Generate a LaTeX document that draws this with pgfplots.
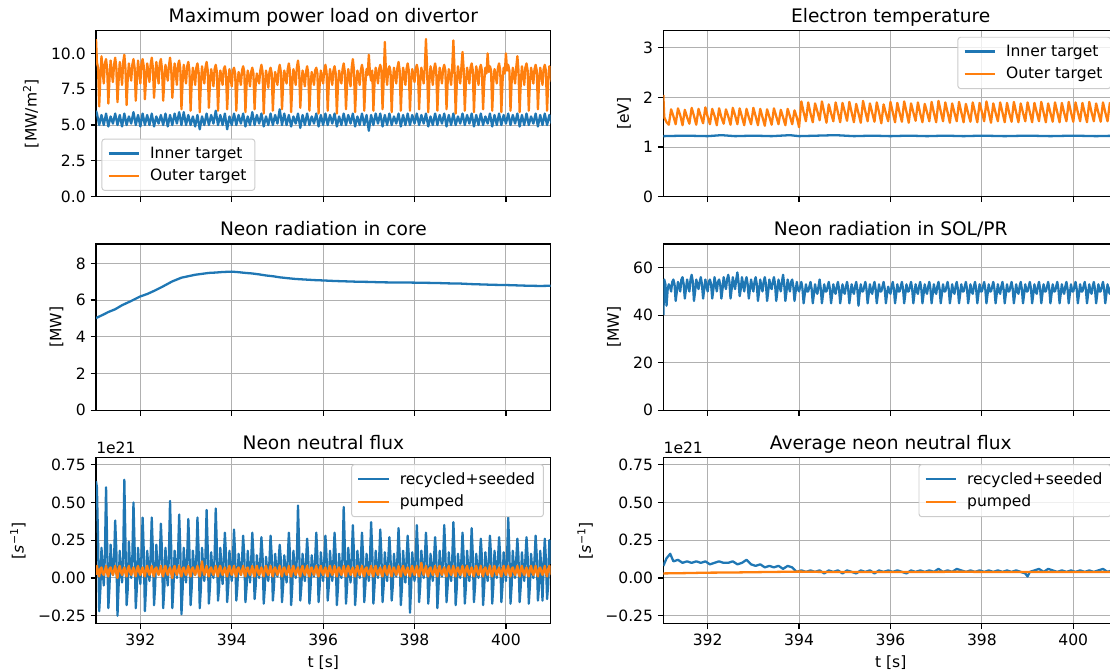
\documentclass[border=0pt]{standalone}
\usepackage{fontspec}
\setmainfont{DejaVu Sans}
\usepackage{pgfplots}
\pgfplotsset{compat=1.18}
\usepackage{pgfplotstable}
\definecolor{C0}{HTML}{1F77B4}
\definecolor{C1}{HTML}{FF7F0E}
\definecolor{gridc}{HTML}{B0B0B0}
\definecolor{legc}{HTML}{CCCCCC}
\newcommand{\fs}{\fontsize{11.2}{13.4}\selectfont}
\pgfplotsset{
  base/.style={
    scale only axis, width=327.4pt, height=119.7pt, anchor=south west,
    xmin=391.03, xmax=400.98,
    xtick={392,394,396,398,400},
    grid=major, grid style={line width=0.65pt, color=gridc},
    axis line style={line width=0.85pt},
    tick align=outside, tick pos=left, major tick length=3.9pt,
    tick style={line width=0.85pt, black},
    tick label style={font=\fs},
    /pgf/number format/assume math mode=true,
    label style={font=\fs},
    ylabel shift=2pt,
    title style={font=\fontsize{13.4}{16}\selectfont, anchor=base, at={(0.5,1)}},
    legend cell align=left,
    legend image code/.code={\draw[##1] (0pt,0pt) -- (22pt,0pt);},
    legend style={draw=legc, line width=0.7pt, rounded corners=2pt, fill=white, fill opacity=0.8, text opacity=1, font=\fs, inner xsep=4pt, inner ysep=3.5pt, row sep=2.5pt, /tikz/every odd column/.append style={column sep=5pt}},
    every axis plot/.append style={line width=1.65pt, mark=none, line join=round},
  },
  flux/.style={
    ymin=-0.303, ymax=0.798, ytick={-0.25,0,0.25,0.5,0.75},
    yticklabels={−0.25,0.00,0.25,0.50,0.75},
    ylabel={[\textit{s}\textsuperscript{−1}]}, xlabel={t [s]},
  },
}
\pgfplotstableread{
t a b c d e f
391.03 6.0 11.0 2.05 40 0.64 0.02
391.05 5.8 9.4 1.60 55 0.60 0.08
391.075 nan 9.0 nan 53 0.25 0.04
391.10 5.0 6.3 1.50 44 -0.22 0.01
391.125 nan 8.3 nan 51 -0.08 0.06
391.15 5.7 9.8 1.45 53 0.20 0.07
391.175 nan 8.8 nan 52 0.06 0.03
391.20 5.0 7.9 1.76 50 -0.05 0.02
391.225 nan 9.3 nan 54 0.15 0.05
391.25 5.8 9.6 1.62 55 0.60 0.08
391.275 nan 8.9 nan 53 0.20 0.03
391.30 4.9 6.5 1.46 46 -0.20 0.01
391.325 nan 8.2 nan 50 -0.06 0.06
391.35 5.6 9.5 1.78 54 0.22 0.07
391.375 nan 8.6 nan 52 0.08 0.04
391.40 5.1 8.0 1.64 50 0.02 0.02
391.425 nan 9.2 nan 55 0.12 0.05
391.45 5.8 9.7 1.44 56 0.38 0.08
391.475 nan 9.0 nan 53 0.18 0.03
391.50 5.0 6.6 1.75 47 -0.25 0.00
391.525 nan 8.1 nan 51 -0.05 0.06
391.55 5.7 9.4 1.60 55 0.18 0.08
391.575 nan 8.7 nan 52 0.05 0.04
391.60 4.9 7.8 1.47 50 -0.03 0.02
391.625 nan 9.4 nan 55 0.14 0.05
391.65 5.8 9.9 1.79 57 0.65 0.07
391.675 nan 8.9 nan 54 0.22 0.03
391.70 5.0 6.4 1.63 46 -0.18 0.01
391.725 nan 8.3 nan 50 -0.07 0.06
391.75 5.6 9.3 1.45 55 0.24 0.08
391.775 nan 8.6 nan 53 0.07 0.04
391.80 5.1 8.1 1.77 51 0.00 0.02
391.825 nan 9.2 nan 54 0.13 0.05
391.85 5.9 9.6 1.62 56 0.50 0.07
391.875 nan 9.0 nan 53 0.20 0.03
391.90 5.0 6.7 1.48 47 -0.20 0.01
391.925 nan 8.2 nan 51 -0.06 0.06
391.95 5.7 9.5 1.80 55 0.20 0.08
391.975 nan 8.7 nan 52 0.06 0.04
392.00 4.9 7.9 1.61 50 -0.04 0.02
392.025 nan 9.3 nan 54 0.15 0.05
392.05 5.8 9.6 1.46 55 0.40 0.07
392.075 nan 9.1 nan 53 0.18 0.03
392.10 5.0 6.8 1.77 47 -0.22 0.01
392.125 nan 8.2 nan 51 -0.06 0.06
392.15 5.7 9.3 1.63 56 0.18 0.08
392.175 nan 8.7 nan 53 0.07 0.04
392.20 5.0 8.0 1.44 50 -0.02 0.02
392.225 nan 9.2 nan 54 0.14 0.05
392.25 5.8 9.7 1.78 55 0.40 0.08
392.275 nan 9.0 nan 53 0.17 0.03
392.30 4.9 6.9 1.60 47 -0.18 0.01
392.325 nan 8.3 nan 51 -0.05 0.06
392.35 5.6 9.4 1.47 56 0.22 0.07
392.375 nan 8.6 nan 53 0.06 0.04
392.40 5.1 7.9 1.76 51 0.03 0.02
392.425 nan 9.3 nan 55 0.13 0.05
392.45 5.7 9.6 1.62 57 0.36 0.08
392.475 nan 8.9 nan 54 0.16 0.03
392.50 5.0 6.7 1.45 47 -0.20 0.01
392.525 nan 8.1 nan 51 -0.07 0.06
392.55 5.8 9.2 1.79 56 0.20 0.08
392.575 nan 8.7 nan 53 0.05 0.04
392.60 4.9 8.1 1.64 51 -0.05 0.02
392.625 nan 9.1 nan 55 0.14 0.05
392.65 5.7 9.7 1.46 58 0.51 0.07
392.675 nan 9.0 nan 54 0.20 0.03
392.70 5.0 6.9 1.78 48 -0.20 0.00
392.725 nan 8.2 nan 51 -0.06 0.06
392.75 5.8 9.3 1.61 56 0.18 0.08
392.775 nan 8.6 nan 53 0.07 0.04
392.80 5.1 7.8 1.44 50 0.00 0.02
392.825 nan 9.2 nan 54 0.15 0.05
392.85 5.9 9.5 1.77 56 0.42 0.08
392.875 nan 8.9 nan 53 0.18 0.03
392.90 5.0 6.1 1.60 47 -0.24 0.01
392.925 nan 8.0 nan 51 -0.08 0.06
392.95 5.9 9.2 1.46 55 0.20 0.07
392.975 nan 8.5 nan 52 0.06 0.04
393.00 5.0 7.9 1.79 50 -0.03 0.02
393.025 nan 9.1 nan 54 0.14 0.05
393.05 5.7 9.4 1.62 56 0.39 0.08
393.075 nan 8.8 nan 53 0.17 0.03
393.10 5.0 6.0 1.44 46 -0.18 0.01
393.125 nan 8.0 nan 50 -0.06 0.06
393.15 5.6 9.0 1.77 55 0.18 0.07
393.175 nan 8.5 nan 52 0.06 0.04
393.20 4.9 7.8 1.60 50 0.02 0.02
393.225 nan 9.0 nan 54 0.13 0.05
393.25 5.7 9.3 1.43 56 0.40 0.08
393.275 nan 8.7 nan 53 0.18 0.03
393.30 4.7 5.9 1.76 46 -0.20 0.01
393.325 nan 7.9 nan 50 -0.07 0.06
393.35 5.6 9.1 1.61 55 0.20 0.11
393.375 nan 8.4 nan 52 0.07 0.05
393.40 5.0 7.9 1.45 51 -0.02 0.02
393.425 nan 9.0 nan 54 0.14 0.05
393.45 5.8 9.4 1.78 56 0.45 0.08
393.475 nan 8.8 nan 53 0.19 0.03
393.50 5.0 6.2 1.62 46 -0.17 0.01
393.525 nan 8.0 nan 50 -0.05 0.06
393.55 5.7 8.9 1.46 55 0.17 0.07
393.575 nan 8.4 nan 52 0.05 0.04
393.60 5.1 7.7 1.75 50 0.00 0.02
393.625 nan 8.9 nan 54 0.13 0.05
393.65 6.0 9.2 1.60 57 0.46 0.08
393.675 nan 8.7 nan 53 0.20 0.03
393.70 5.0 6.0 1.44 46 -0.15 0.01
393.725 nan 7.9 nan 50 -0.06 0.06
393.75 5.7 8.8 1.77 55 0.20 0.08
393.775 nan 8.4 nan 52 0.06 0.04
393.80 5.0 7.8 1.62 50 -0.04 0.02
393.825 nan 8.9 nan 54 0.12 0.05
393.85 5.8 9.1 1.46 55 0.30 0.07
393.875 nan 8.6 nan 52 0.15 0.03
393.90 4.7 6.1 1.74 46 -0.16 0.01
393.925 nan 7.9 nan 50 -0.05 0.06
393.95 5.6 8.9 1.60 54 0.18 0.08
393.975 nan 8.3 nan 51 0.06 0.04
394.00 5.0 7.7 1.40 50 -0.02 0.02
394.025 nan 8.8 nan 52 0.12 0.05
394.05 5.8 9.0 1.92 54 0.32 0.08
394.075 nan 8.6 nan 51 0.15 0.03
394.10 5.0 6.0 1.70 45 -0.15 0.01
394.125 nan 7.9 nan 49 -0.05 0.06
394.15 5.7 8.7 1.52 53 0.16 0.07
394.175 nan 8.3 nan 50 0.05 0.04
394.20 5.1 7.8 1.90 50 0.02 0.02
394.225 nan 8.8 nan 52 0.12 0.05
394.25 5.8 9.1 1.68 54 0.28 0.08
394.275 nan 8.7 nan 51 0.14 0.03
394.30 4.9 5.9 1.50 45 -0.16 0.01
394.325 nan 7.8 nan 49 -0.06 0.06
394.35 5.6 8.8 1.88 53 0.18 0.07
394.375 nan 8.3 nan 50 0.06 0.04
394.40 5.0 7.7 1.72 49 -0.03 0.02
394.425 nan 8.7 nan 52 0.11 0.05
394.45 5.9 9.0 1.54 55 0.30 0.08
394.475 nan 8.6 nan 51 0.15 0.03
394.50 5.0 6.1 1.92 45 -0.14 0.01
394.525 nan 7.9 nan 49 -0.05 0.06
394.55 5.7 8.6 1.70 53 0.15 0.08
394.575 nan 8.2 nan 50 0.05 0.04
394.60 5.1 7.9 1.49 50 0.00 0.02
394.625 nan 8.8 nan 52 0.12 0.05
394.65 5.8 9.2 1.86 54 0.27 0.07
394.675 nan 8.7 nan 51 0.14 0.03
394.70 4.9 5.8 1.68 45 -0.17 0.01
394.725 nan 7.8 nan 49 -0.06 0.06
394.75 5.6 8.8 1.52 53 0.14 0.08
394.775 nan 8.3 nan 50 0.05 0.04
394.80 5.0 7.6 1.90 49 -0.02 0.02
394.825 nan 8.7 nan 52 0.11 0.05
394.85 5.8 9.0 1.70 54 0.28 0.08
394.875 nan 8.6 nan 51 0.14 0.03
394.90 5.0 6.0 1.50 45 -0.15 0.01
394.925 nan 7.9 nan 49 -0.05 0.06
394.95 5.7 8.7 1.89 53 0.16 0.07
394.975 nan 8.3 nan 50 0.06 0.04
395.00 5.1 7.8 1.71 49 0.01 0.02
395.025 nan 8.8 nan 52 0.11 0.05
395.05 6.1 9.2 1.53 54 0.22 0.08
395.075 nan 8.7 nan 51 0.12 0.03
395.10 5.0 6.1 1.91 45 -0.16 0.01
395.125 nan 7.9 nan 49 -0.05 0.06
395.15 5.8 8.8 1.70 53 0.15 0.07
395.175 nan 8.3 nan 50 0.05 0.04
395.20 5.0 7.9 1.50 49 -0.03 0.02
395.225 nan 8.9 nan 52 0.12 0.05
395.25 5.7 9.3 1.87 54 0.30 0.08
395.275 nan 8.7 nan 51 0.15 0.03
395.30 4.9 5.9 1.68 44 -0.18 0.01
395.325 nan 7.8 nan 49 -0.06 0.06
395.35 5.6 8.9 1.49 53 0.18 0.08
395.375 nan 8.4 nan 50 0.06 0.04
395.40 5.1 7.8 1.93 50 0.00 0.02
395.425 nan 9.0 nan 52 0.13 0.05
395.45 5.8 9.5 1.72 54 0.48 0.07
395.475 nan 8.8 nan 51 0.20 0.03
395.50 4.8 6.2 1.52 45 -0.15 0.01
395.525 nan 7.9 nan 49 -0.05 0.06
395.55 5.7 8.8 1.88 53 0.16 0.08
395.575 nan 8.3 nan 50 0.05 0.04
395.60 5.0 7.7 1.69 49 -0.02 0.02
395.625 nan 8.7 nan 52 0.11 0.05
395.65 5.8 9.1 1.51 54 0.26 0.08
395.675 nan 8.6 nan 51 0.13 0.03
395.70 5.0 6.0 1.90 45 -0.17 0.01
395.725 nan 7.8 nan 49 -0.06 0.06
395.75 5.6 8.7 1.70 53 0.15 0.07
395.775 nan 8.3 nan 50 0.05 0.04
395.80 5.1 7.8 1.48 50 0.01 0.02
395.825 nan 8.8 nan 52 0.12 0.05
395.85 5.8 9.0 1.86 54 0.30 0.08
395.875 nan 8.6 nan 51 0.14 0.03
395.90 4.9 5.8 1.68 45 -0.16 0.01
395.925 nan 7.9 nan 49 -0.05 0.06
395.95 5.7 8.8 1.52 52 0.17 0.08
395.975 nan 8.3 nan 50 0.06 0.04
396.00 5.0 7.9 1.91 49 -0.02 0.02
396.025 nan 8.8 nan 52 0.12 0.05
396.05 5.8 9.2 1.70 54 0.28 0.07
396.075 nan 8.7 nan 51 0.14 0.03
396.10 5.0 6.0 1.50 45 -0.15 0.01
396.125 nan 7.9 nan 49 -0.05 0.06
396.15 5.7 8.9 1.89 53 0.18 0.08
396.175 nan 8.4 nan 50 0.06 0.04
396.20 5.1 7.8 1.69 50 -0.02 0.02
396.225 nan 8.8 nan 52 0.12 0.05
396.25 5.8 9.1 1.51 54 0.30 0.08
396.275 nan 8.6 nan 51 0.15 0.03
396.30 4.9 5.8 1.92 45 -0.18 0.01
396.325 nan 7.8 nan 49 -0.06 0.06
396.35 5.6 8.8 1.71 53 0.16 0.07
396.375 nan 8.3 nan 50 0.05 0.04
396.40 5.0 7.9 1.49 50 0.00 0.02
396.425 nan 8.9 nan 52 0.14 0.05
396.45 5.8 9.3 1.88 54 0.47 0.08
396.475 nan 8.7 nan 51 0.20 0.03
396.50 5.0 6.1 1.70 45 -0.17 0.01
396.525 nan 7.9 nan 49 -0.05 0.06
396.55 5.7 8.9 1.53 53 0.20 0.08
396.575 nan 8.3 nan 50 0.06 0.04
396.60 5.1 7.7 1.90 49 -0.03 0.02
396.625 nan 9.0 nan 52 0.13 0.05
396.65 5.8 9.6 1.68 54 0.35 0.07
396.675 nan 8.8 nan 51 0.16 0.03
396.70 4.9 5.9 1.50 45 -0.18 0.01
396.725 nan 7.8 nan 49 -0.06 0.06
396.75 5.6 8.8 1.87 53 0.18 0.08
396.775 nan 8.4 nan 50 0.06 0.04
396.80 5.0 7.8 1.70 49 0.00 0.02
396.825 nan 8.8 nan 52 0.12 0.05
396.85 5.8 9.2 1.52 54 0.30 0.08
396.875 nan 8.7 nan 51 0.14 0.03
396.90 5.0 6.0 1.91 45 -0.16 0.01
396.925 nan 7.9 nan 49 -0.05 0.06
396.95 5.7 8.9 1.69 53 0.16 0.07
396.975 nan 8.5 nan 50 0.06 0.04
397.00 4.6 9.9 1.50 49 -0.02 0.02
397.025 nan 8.6 nan 52 0.12 0.05
397.05 5.7 8.1 1.93 54 0.37 0.08
397.075 nan 8.8 nan 51 0.17 0.03
397.10 5.0 6.0 1.72 45 -0.17 0.01
397.125 nan 8.0 nan 49 -0.05 0.06
397.15 5.8 9.0 1.52 53 0.18 0.08
397.175 nan 8.5 nan 50 0.06 0.04
397.20 5.1 7.9 1.90 50 0.00 0.02
397.225 nan 8.9 nan 52 0.12 0.05
397.25 5.8 9.2 1.70 54 0.32 0.07
397.275 nan 8.8 nan 51 0.15 0.03
397.30 4.9 6.1 1.49 45 -0.16 0.01
397.325 nan 8.1 nan 49 -0.05 0.06
397.35 5.7 10.8 1.88 53 0.17 0.08
397.375 nan 8.6 nan 50 0.06 0.04
397.40 5.0 7.8 1.69 49 -0.02 0.02
397.425 nan 8.9 nan 52 0.12 0.05
397.45 5.8 9.1 1.52 54 0.27 0.08
397.475 nan 8.7 nan 51 0.13 0.03
397.50 5.0 5.9 1.91 45 -0.15 0.01
397.525 nan 8.0 nan 49 -0.05 0.06
397.55 5.6 9.0 1.70 53 0.16 0.07
397.575 nan 8.5 nan 50 0.05 0.04
397.60 5.1 7.9 1.50 50 0.01 0.02
397.625 nan 9.0 nan 52 0.13 0.05
397.65 5.8 9.4 1.87 54 0.33 0.08
397.675 nan 8.8 nan 51 0.15 0.03
397.70 4.9 6.0 1.68 45 -0.18 0.01
397.725 nan 8.0 nan 49 -0.06 0.06
397.75 5.7 9.0 1.51 53 0.18 0.08
397.775 nan 8.5 nan 50 0.06 0.04
397.80 5.0 7.8 1.90 49 -0.03 0.02
397.825 nan 8.9 nan 52 0.12 0.05
397.85 5.8 9.3 1.70 54 0.28 0.07
397.875 nan 8.8 nan 51 0.14 0.03
397.90 5.0 6.0 1.50 45 -0.23 0.01
397.925 nan 8.0 nan 49 -0.07 0.06
397.95 5.7 8.9 1.89 53 0.17 0.08
397.975 nan 8.5 nan 50 0.06 0.04
398.00 5.1 8.0 1.71 50 -0.02 0.02
398.025 nan 8.9 nan 52 0.12 0.05
398.05 5.8 9.2 1.52 54 0.35 0.08
398.075 nan 8.8 nan 51 0.16 0.03
398.10 5.0 6.1 1.92 45 -0.16 0.01
398.125 nan 8.0 nan 49 -0.05 0.06
398.15 5.7 9.0 1.70 53 0.18 0.10
398.175 nan 8.5 nan 50 0.06 0.05
398.20 5.1 7.9 1.49 50 0.00 0.02
398.225 nan 9.0 nan 52 0.13 0.05
398.25 5.8 11.0 1.88 54 0.30 0.08
398.275 nan 8.9 nan 51 0.15 0.03
398.30 4.9 5.9 1.69 45 -0.17 0.01
398.325 nan 8.0 nan 49 -0.05 0.06
398.35 5.6 9.1 1.52 53 0.16 0.07
398.375 nan 8.5 nan 50 0.05 0.04
398.40 5.0 7.8 1.90 49 -0.02 0.02
398.425 nan 8.9 nan 52 0.12 0.05
398.45 5.8 9.3 1.70 54 0.27 0.08
398.475 nan 8.8 nan 51 0.14 0.03
398.50 5.0 6.0 1.50 45 -0.20 0.01
398.525 nan 8.0 nan 49 -0.06 0.06
398.55 5.7 9.0 1.89 53 0.18 0.08
398.575 nan 8.5 nan 50 0.06 0.04
398.60 5.1 7.9 1.68 50 0.01 0.02
398.625 nan 8.9 nan 52 0.13 0.05
398.65 5.8 9.2 1.51 54 0.35 0.07
398.675 nan 8.8 nan 51 0.16 0.03
398.70 4.9 6.1 1.91 45 -0.16 0.01
398.725 nan 8.0 nan 49 -0.05 0.06
398.75 5.7 8.9 1.70 53 0.17 0.08
398.775 nan 8.4 nan 50 0.05 0.04
398.80 5.0 7.8 1.50 49 -0.02 0.02
398.825 nan 9.0 nan 52 0.12 0.05
398.85 5.8 10.9 1.88 54 0.37 0.08
398.875 nan 8.9 nan 51 0.17 0.03
398.90 5.0 5.8 1.69 45 -0.18 0.01
398.925 nan 7.9 nan 49 -0.06 0.06
398.95 5.6 9.1 1.52 53 0.16 0.07
398.975 nan 8.5 nan 50 0.06 0.04
399.00 5.1 7.9 1.90 50 0.00 0.02
399.025 nan 9.0 nan 52 0.12 0.05
399.05 5.8 10.1 1.70 54 0.30 0.08
399.075 nan 8.9 nan 51 0.14 0.03
399.10 5.0 6.0 1.50 45 -0.17 0.01
399.125 nan 8.0 nan 49 -0.05 0.06
399.15 5.7 9.0 1.89 53 0.18 0.08
399.175 nan 8.5 nan 50 0.06 0.04
399.20 5.1 7.9 1.70 49 -0.02 0.02
399.225 nan 9.0 nan 52 0.12 0.05
399.25 5.8 9.3 1.52 54 0.33 0.07
399.275 nan 8.8 nan 51 0.15 0.03
399.30 4.9 5.9 1.91 45 -0.16 0.01
399.325 nan 8.0 nan 49 -0.05 0.06
399.35 5.7 9.1 1.70 53 0.16 0.08
399.375 nan 8.5 nan 50 0.05 0.04
399.40 5.0 7.8 1.50 50 0.00 0.02
399.425 nan 8.9 nan 52 0.12 0.05
399.45 5.8 9.2 1.88 54 0.26 0.08
399.475 nan 8.8 nan 51 0.13 0.03
399.50 5.0 6.1 1.69 45 -0.18 0.01
399.525 nan 8.0 nan 49 -0.06 0.06
399.55 5.6 9.0 1.51 53 0.17 0.07
399.575 nan 8.6 nan 50 0.05 0.04
399.60 5.1 10.0 1.90 50 -0.02 0.02
399.625 nan 8.7 nan 52 0.12 0.05
399.65 5.8 9.1 1.70 54 0.28 0.08
399.675 nan 8.8 nan 51 0.14 0.03
399.70 4.9 6.0 1.50 45 -0.17 0.01
399.725 nan 8.0 nan 49 -0.05 0.06
399.75 5.7 8.9 1.89 53 0.18 0.08
399.775 nan 8.5 nan 50 0.06 0.04
399.80 5.0 7.9 1.69 49 0.00 0.02
399.825 nan 9.0 nan 52 0.12 0.05
399.85 5.8 9.3 1.52 54 0.27 0.07
399.875 nan 8.8 nan 51 0.14 0.03
399.90 5.0 5.9 1.91 45 -0.16 0.01
399.925 nan 8.0 nan 49 -0.05 0.06
399.95 5.7 9.0 1.70 53 0.17 0.08
399.975 nan 8.6 nan 50 0.06 0.04
400.00 5.1 10.0 1.51 50 -0.02 0.02
400.025 nan 8.8 nan 52 0.14 0.05
400.05 5.8 9.2 1.90 54 0.40 0.08
400.075 nan 8.8 nan 51 0.17 0.03
400.10 5.0 6.0 1.70 45 -0.17 0.01
400.125 nan 8.0 nan 49 -0.05 0.06
400.15 5.7 9.0 1.52 53 0.18 0.07
400.175 nan 8.5 nan 50 0.06 0.04
400.20 5.1 7.9 1.89 50 0.00 0.02
400.225 nan 9.0 nan 52 0.12 0.05
400.25 5.8 9.8 1.69 54 0.26 0.08
400.275 nan 8.8 nan 51 0.13 0.03
400.30 4.9 5.9 1.50 45 -0.16 0.01
400.325 nan 8.0 nan 49 -0.05 0.06
400.35 5.7 9.1 1.91 53 0.17 0.08
400.375 nan 8.5 nan 50 0.05 0.04
400.40 5.0 7.8 1.70 49 -0.02 0.02
400.425 nan 9.0 nan 52 0.12 0.05
400.45 5.8 9.3 1.52 54 0.27 0.07
400.475 nan 8.8 nan 51 0.14 0.03
400.50 5.0 6.0 1.88 45 -0.17 0.01
400.525 nan 8.0 nan 49 -0.05 0.06
400.55 5.6 9.0 1.69 53 0.16 0.08
400.575 nan 8.5 nan 50 0.05 0.04
400.60 5.1 7.9 1.51 50 0.00 0.02
400.625 nan 8.9 nan 52 0.12 0.05
400.65 5.8 9.2 1.90 54 0.28 0.08
400.675 nan 8.8 nan 51 0.14 0.03
400.70 4.9 6.1 1.70 45 -0.15 0.01
400.725 nan 8.0 nan 49 -0.05 0.06
400.75 5.7 9.0 1.52 53 0.18 0.07
400.775 nan 8.5 nan 50 0.06 0.04
400.80 5.0 7.8 1.89 49 -0.15 0.02
400.825 nan 8.9 nan 52 0.10 0.05
400.85 5.8 9.2 1.69 54 0.26 0.08
400.875 nan 8.8 nan 51 0.12 0.03
400.90 5.0 6.0 1.50 45 -0.14 0.01
400.925 nan 8.0 nan 49 -0.04 0.06
400.95 5.7 9.1 1.88 53 0.25 0.08
400.975 nan 8.6 nan 50 0.10 0.04
401.00 5.1 8.0 1.70 50 0.25 0.02
}\datatab
\pgfplotstableread{
t y
391.03 5.02
391.2 5.22
391.3 5.35
391.45 5.50
391.6 5.72
391.8 5.95
392.0 6.20
392.15 6.33
392.3 6.50
392.5 6.75
392.7 7.02
392.9 7.22
393.05 7.30
393.2 7.38
393.35 7.43
393.5 7.48
393.65 7.50
393.8 7.53
394.0 7.55
394.15 7.52
394.3 7.48
394.45 7.45
394.6 7.40
394.75 7.34
394.9 7.30
395.05 7.24
395.2 7.20
395.4 7.15
395.6 7.12
395.8 7.09
396.0 7.07
396.25 7.04
396.5 7.02
396.75 7.00
397.0 6.99
397.25 6.97
397.5 6.96
397.75 6.96
398.0 6.95
398.25 6.94
398.5 6.93
398.75 6.91
399.0 6.90
399.25 6.87
399.5 6.85
399.75 6.83
400.0 6.82
400.25 6.80
400.5 6.78
400.75 6.77
401.0 6.78
}\coretab
\pgfplotstableread{
t y
391.03 1.22
391.5 1.23
392.0 1.22
392.3 1.24
392.6 1.22
393.0 1.23
393.4 1.22
393.8 1.24
394.0 1.22
394.4 1.23
394.8 1.24
395.2 1.22
395.6 1.23
396.0 1.22
396.4 1.23
396.8 1.22
397.2 1.23
397.6 1.22
398.0 1.23
398.5 1.22
399.0 1.23
399.5 1.22
400.0 1.23
400.5 1.22
401.0 1.23
}\innerte
\pgfplotstableread{
t y
391.03 0.08
391.10 0.13
391.18 0.16
391.25 0.11
391.35 0.12
391.45 0.10
391.55 0.11
391.65 0.10
391.75 0.11
391.85 0.10
391.95 0.11
392.05 0.09
392.15 0.10
392.25 0.11
392.35 0.10
392.45 0.10
392.55 0.11
392.65 0.09
392.75 0.10
392.85 0.12
392.95 0.09
393.05 0.08
393.15 0.09
393.25 0.07
393.35 0.08
393.45 0.07
393.55 0.08
393.65 0.06
393.75 0.08
393.85 0.07
393.95 0.04
394.05 0.05
394.15 0.04
394.25 0.05
394.35 0.04
394.45 0.05
394.55 0.03
394.65 0.05
394.75 0.04
394.85 0.05
394.95 0.03
395.05 0.05
395.15 0.04
395.25 0.03
395.35 0.05
395.45 0.04
395.55 0.05
395.65 0.03
395.75 0.05
395.85 0.04
395.95 0.05
396.05 0.04
396.15 0.05
396.25 0.04
396.35 0.03
396.45 0.05
396.55 0.04
396.65 0.05
396.75 0.04
396.85 0.05
396.95 0.04
397.05 0.06
397.15 0.04
397.25 0.05
397.35 0.04
397.45 0.06
397.55 0.05
397.65 0.04
397.75 0.05
397.85 0.04
397.95 0.05
398.05 0.04
398.15 0.05
398.25 0.04
398.35 0.05
398.45 0.04
398.55 0.05
398.65 0.04
398.75 0.05
398.85 0.04
398.95 0.03
399.00 0.01
399.05 0.04
399.15 0.05
399.25 0.06
399.35 0.04
399.45 0.06
399.55 0.05
399.65 0.04
399.75 0.05
399.85 0.04
399.95 0.05
400.05 0.04
400.15 0.05
400.25 0.04
400.35 0.05
400.45 0.04
400.55 0.05
400.65 0.06
400.75 0.04
400.85 0.05
400.95 0.04
}\avgflux
\pgfplotstableread{
t y
391.03 0.030
391.5 0.032
392.0 0.035
392.5 0.036
393.0 0.038
393.5 0.040
394.0 0.042
394.5 0.040
395.0 0.040
395.5 0.039
396.0 0.040
396.5 0.039
397.0 0.040
397.5 0.041
398.0 0.040
398.5 0.039
399.0 0.040
399.5 0.040
400.0 0.039
400.5 0.040
401.0 0.040
}\avgpump
\begin{document}
\begin{tikzpicture}
\useasboundingbox (0,0) rectangle (799.2pt,483.12pt);
% top left
\begin{axis}[base, at={(69.12pt,341.5pt)},
  title={Maximum power load on divertor},
  ymin=0, ymax=11.6, ytick={0,2.5,5,7.5,10},
  yticklabel style={/pgf/number format/.cd, fixed, fixed zerofill, precision=1},
  xticklabels={},
  ylabel={[MW/m\textsuperscript{2}]},
  legend style={at={(0.012,0.035)}, anchor=south west}]
\addplot[C0] table[x=t, y=a] {\datatab};
\addlegendentry{Inner target}
\addplot[C1] table[x=t, y=b] {\datatab};
\addlegendentry{Outer target}
\end{axis}
% top right
\begin{axis}[base, at={(477.6pt,341.5pt)},
  title={Electron temperature},
  ymin=0, ymax=3.35, ytick={0,1,2,3},
  xticklabels={},
  ylabel={[eV]},
  legend style={at={(0.985,0.962)}, anchor=north east}]
\addplot[C0] table[x=t, y=y] {\innerte};
\addlegendentry{Inner target}
\addplot[C1] table[x=t, y=c] {\datatab};
\addlegendentry{Outer target}
\end{axis}
% middle left
\begin{axis}[base, at={(69.12pt,187.8pt)},
  title={Neon radiation in core},
  ymin=0, ymax=9.06, ytick={0,2,4,6,8},
  xticklabels={},
  ylabel={[MW]}]
\addplot[C0] table[x=t, y=y] {\coretab};
\end{axis}
% middle right
\begin{axis}[base, at={(477.6pt,187.8pt)},
  title={Neon radiation in SOL/PR},
  ymin=0, ymax=70, ytick={0,20,40,60},
  xticklabels={},
  ylabel={[MW]}]
\addplot[C0] table[x=t, y=d] {\datatab};
\end{axis}
% bottom left
\begin{axis}[base, flux, name=bl, at={(69.12pt,34.06pt)},
  title={Neon neutral flux},
  legend style={at={(0.985,0.96)}, anchor=north east}]
\addplot[C0] table[x=t, y=e] {\datatab};
\addlegendentry{recycled+seeded}
\addplot[C1] table[x=t, y=f] {\datatab};
\addlegendentry{pumped}
\end{axis}
\node[anchor=base west, inner sep=0pt, font=\fs] at ([yshift=3pt]bl.north west) {1e21};
% bottom right
\begin{axis}[base, flux, name=br, at={(477.6pt,34.06pt)},
  title={Average neon neutral flux},
  legend style={at={(0.985,0.96)}, anchor=north east}]
\addplot[C0] table[x=t, y=y] {\avgflux};
\addlegendentry{recycled+seeded}
\addplot[C1] table[x=t, y=y] {\avgpump};
\addlegendentry{pumped}
\end{axis}
\node[anchor=base west, inner sep=0pt, font=\fs] at ([yshift=3pt]br.north west) {1e21};
\end{tikzpicture}
\end{document}
